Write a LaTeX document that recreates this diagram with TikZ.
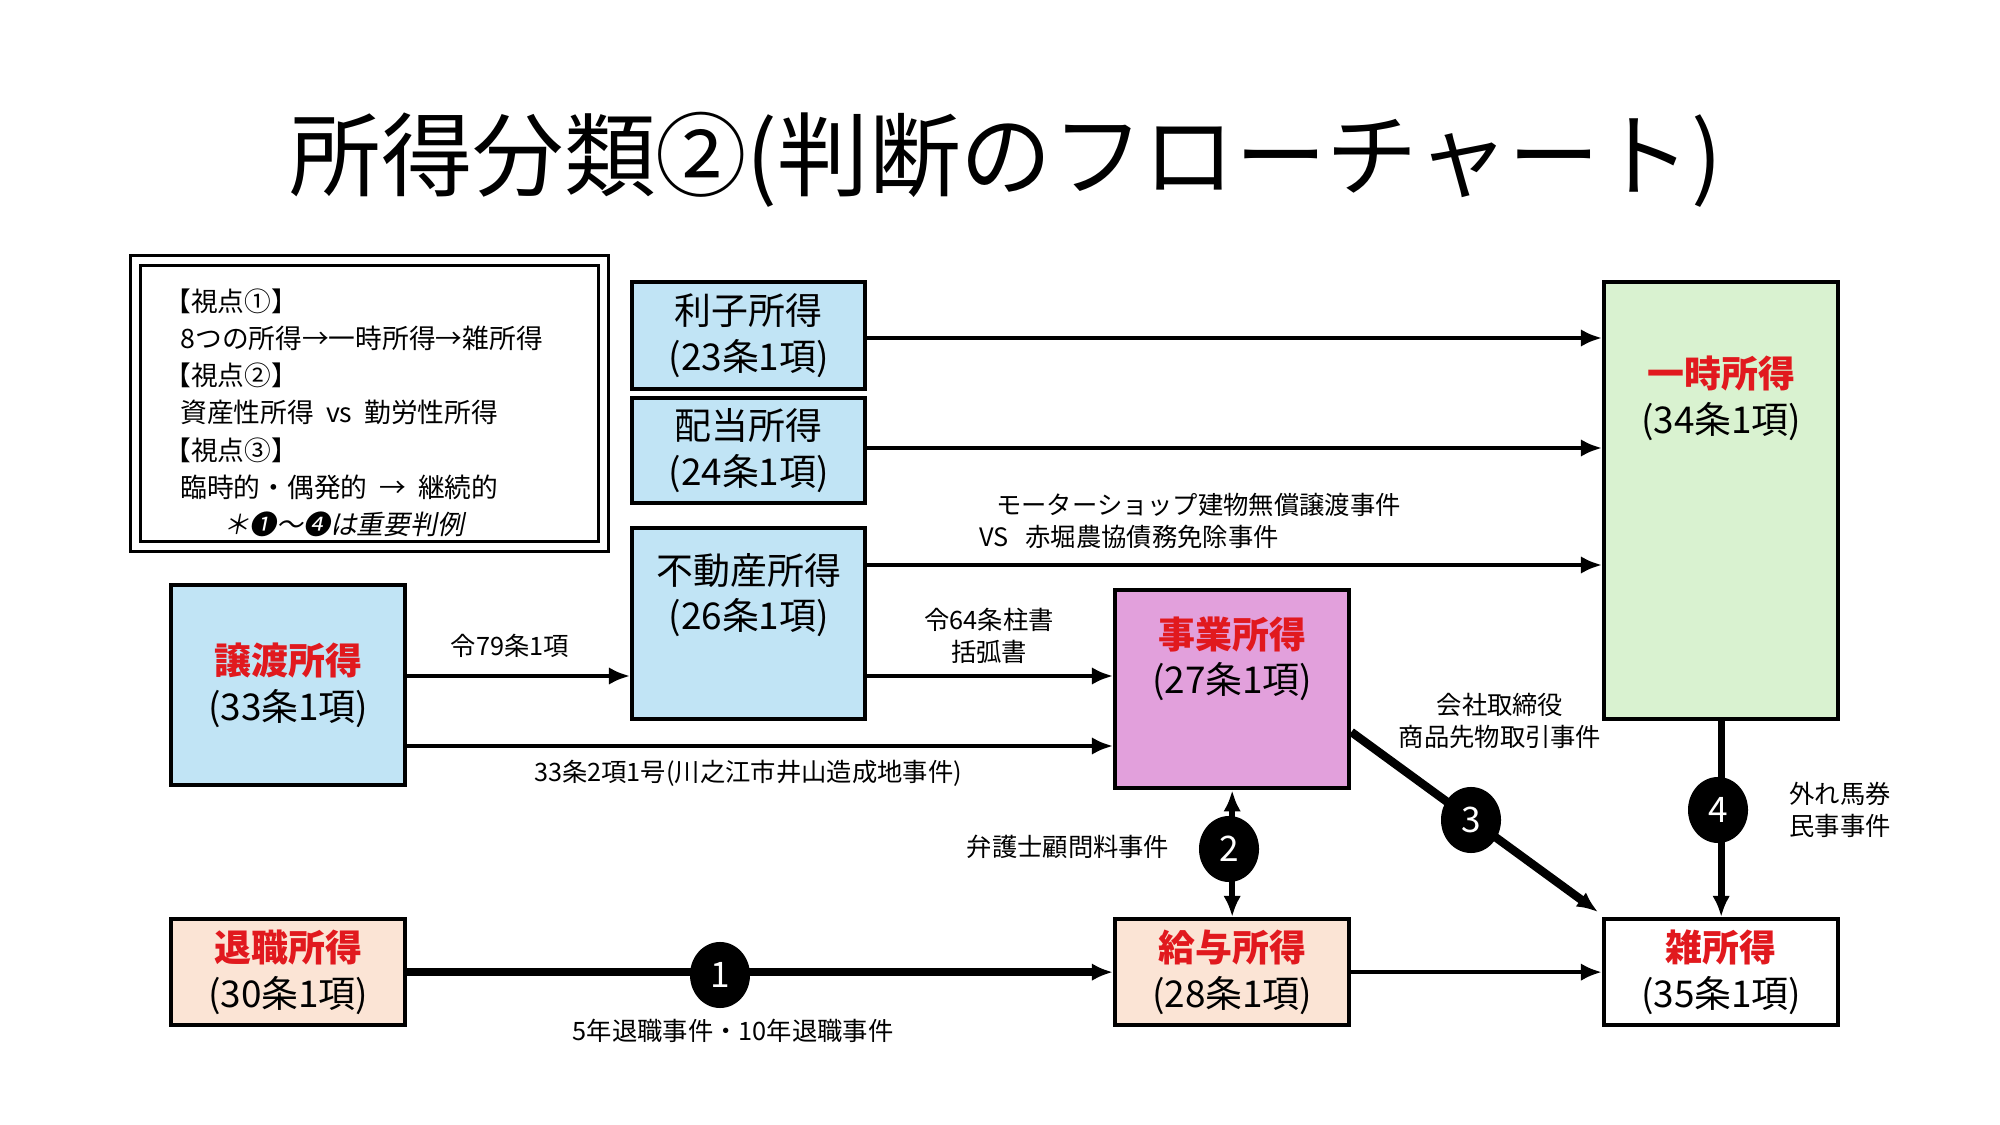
\documentclass[tikz,border=0pt]{standalone}
\usepackage{fontspec}
\setmainfont{Noto Sans CJK JP}
\newfontfamily\slantcjk[FakeSlant=0.2]{Noto Sans CJK JP}
\usetikzlibrary{arrows.meta}
\definecolor{boxblue}{RGB}{193,228,245}
\definecolor{boxgreen}{RGB}{217,242,208}
\definecolor{boxpink}{RGB}{226,160,220}
\definecolor{boxpeach}{RGB}{251,228,213}
\definecolor{labred}{RGB}{225,25,30}
\tikzset{
	box/.style={draw,line width=1.2pt,anchor=north west,inner sep=0pt,align=center,font=\fontsize{10.5}{13}\selectfont},
	lab/.style={font=\fontsize{7.2}{9}\selectfont,align=center},
	arr/.style={-{Latex[length=6pt,width=5pt]},line width=1.2pt},
	num/.style={ellipse,fill=black,text=white,inner sep=0pt,minimum width=0.6cm,minimum height=0.66cm,font=\fontsize{10}{10}\selectfont},
}
\usetikzlibrary{shapes.geometric}
\newcommand{\red}[1]{\textcolor{labred}{\textbf{#1}}}
\begin{document}
\begin{tikzpicture}[x=0.01cm,y=-0.01cm]
		\useasboundingbox (0,0) rectangle (2000,1125);
		\node[font=\fontsize{26}{30}\selectfont] (title) at (1006,160) {所得分類②(判断のフローチャート)};
		
		\node[draw,double,double distance=2pt,line width=0.8pt,anchor=north west,minimum width=4.68cm,minimum height=2.86cm] (legend) at (134,259) {};
		\node[anchor=north west,align=left,font=\fontsize{7.6}{10.6}\selectfont] (legtext) at (152,276) {【視点①】\\\hspace{0.6em}8つの所得→一時所得→雑所得\\【視点②】\\\hspace{0.6em}資産性所得\ \ vs\ \ 勤労性所得\\【視点③】\\\hspace{0.6em}臨時的・偶発的\ \ →\ \ 継続的\\\hspace{2.2em}{\slantcjk＊❶〜❹は重要判例}};
		
		\node[box,fill=boxblue,minimum width=2.33cm,minimum height=1.07cm] (rishi) at (630,280) {利子所得\\(23条1項)};
		\node[box,fill=boxblue,minimum width=2.33cm,minimum height=1.05cm] (haito) at (630,396) {配当所得\\(24条1項)};
		\node[box,fill=boxblue,minimum width=2.33cm,minimum height=1.91cm] (fudo) at (630,526) {不動産所得\\(26条1項)\\[0.5em]};
		\node[box,fill=boxblue,minimum width=2.34cm,minimum height=2cm] (joto) at (169,583) {\red{譲渡所得}\\(33条1項)};
		\node[box,fill=boxpink,minimum width=2.34cm,minimum height=1.98cm] (jigyo) at (1113,588) {\red{事業所得}\\(27条1項)\\[0.6em]};
		\node[box,fill=boxgreen,minimum width=2.34cm,minimum height=4.37cm] (ichiji) at (1602,280) {\red{一時所得}\\(34条1項)\\[4.5em]};
		\node[box,fill=boxpeach,minimum width=2.34cm,minimum height=1.06cm] (taishoku) at (169,917) {\red{退職所得}\\(30条1項)};
		\node[box,fill=boxpeach,minimum width=2.34cm,minimum height=1.06cm] (kyuyo) at (1113,917) {\red{給与所得}\\(28条1項)};
		\node[box,fill=white,minimum width=2.34cm,minimum height=1.06cm] (zatsu) at (1602,917) {\red{雑所得}\\(35条1項)};
		
		% coordinates on the box edges
		\coordinate (r1) at (rishi.east |- 0,338);
		\coordinate (h1) at (haito.east |- 0,448);
		\coordinate (f1) at (fudo.east |- 0,565);
		\coordinate (f2) at (fudo.east |- 0,676);
		\coordinate (j1) at (joto.east |- 0,676);
		\coordinate (j2) at (joto.east |- 0,746);
		\coordinate (z1) at (1598,912);
		
		\draw[arr] (r1) -- (r1 -| ichiji.west);
		\draw[arr] (h1) -- (h1 -| ichiji.west);
		\draw[arr] (f1) -- (f1 -| ichiji.west);
		\draw[arr] (f2) -- (f2 -| jigyo.west);
		\draw[arr] (j1) -- (j1 -| fudo.west);
		\draw[arr] (j2) -- (j2 -| jigyo.west);
		\draw[arr,line width=2.4pt] (taishoku) -- (kyuyo);
		\draw[arr] (kyuyo) -- (zatsu);
		\draw[arr,{Latex[length=6pt,width=5pt]}-{Latex[length=6pt,width=5pt]},line width=1.8pt] (jigyo) -- (kyuyo);
		\draw[arr,line width=2.4pt] (jigyo.east |- 0,732) -- (z1);
		\draw[arr,line width=2pt] (ichiji) -- (zatsu);
		
		\node[num] (n1) at (720,975) {1};
		\node[num] (n2) at (1229,849) {2};
		\node[num] (n3) at (1471,820) {3};
		\node[num] (n4) at (1718,810) {4};
		
		\node[lab] (l1) at (510,646) {令79条1項};
		\node[lab] (l2) at (748,773) {33条2項1号(川之江市井山造成地事件)};
		\node[lab] (l3) at (989,636) {令64条柱書\\括弧書};
		\node[lab,align=left] (l4) at (1190,521) {\ \ \ モーターショップ建物無償譲渡事件\\VS\ \ \ 赤堀農協債務免除事件};
		\node[lab] (l5) at (1500,721) {会社取締役\\商品先物取引事件};
		\node[lab,align=left] (l6) at (1840,810) {外れ馬券\\民事事件};
		\node[lab] (l7) at (1068,847) {弁護士顧問料事件};
		\node[lab] (l8) at (733,1031) {5年退職事件・10年退職事件};
	\end{tikzpicture}
\end{document}
